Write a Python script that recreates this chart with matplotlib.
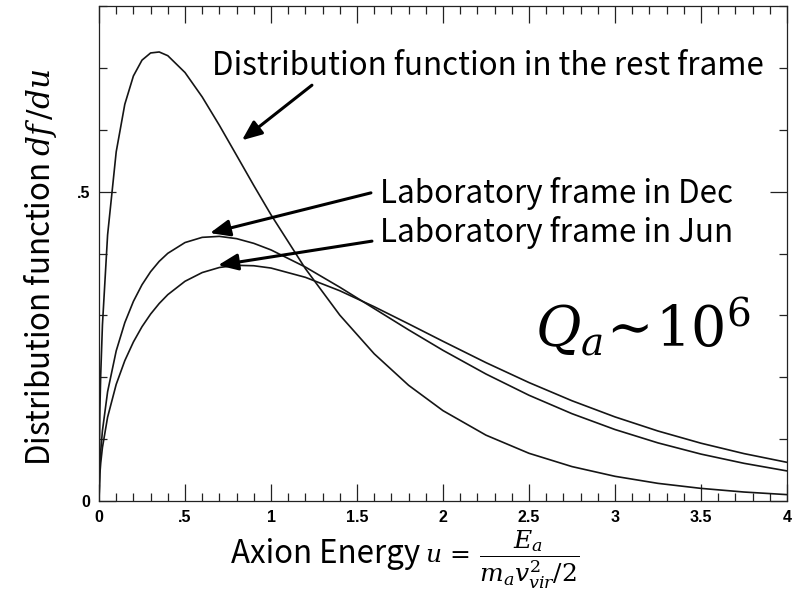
import matplotlib
matplotlib.use("Agg")
import matplotlib.pyplot as plt
from matplotlib.ticker import MultipleLocator, FuncFormatter

plt.rcParams['font.family'] = ['Noto Sans CJK KR', 'DejaVu Sans']
plt.rcParams['mathtext.fontset'] = 'dejavuserif'

# axion energy u = E_a / (m_a v_vir^2 / 2)
u = [0, 0.005, 0.01, 0.02, 0.05, 0.1, 0.15, 0.2, 0.25, 0.3, 0.35, 0.4, 0.5, 0.6,
     0.7, 0.8, 0.9, 1.0, 1.2, 1.4, 1.6, 1.8, 2.0, 2.25, 2.5, 2.75, 3.0, 3.25,
     3.5, 3.75, 4.0]

# df/du in the halo rest frame
rest_frame = [0, 0.1455, 0.2043, 0.2846, 0.4301, 0.5643, 0.6412, 0.6869, 0.7125,
              0.7241, 0.7257, 0.7197, 0.6925, 0.6530, 0.6071, 0.5586, 0.5099,
              0.4626, 0.3755, 0.3004, 0.2379, 0.1870, 0.1460, 0.1064, 0.0771,
              0.0556, 0.0399, 0.0285, 0.0204, 0.0145, 0.0103]

# df/du seen from the lab in December
lab_dec = [0, 0.0573, 0.0808, 0.1137, 0.1766, 0.2426, 0.2882, 0.3226, 0.3495,
           0.3706, 0.3873, 0.4003, 0.4177, 0.4261, 0.4277, 0.4240, 0.4164,
           0.4058, 0.3781, 0.3455, 0.3110, 0.2766, 0.2435, 0.2052, 0.1709,
           0.1411, 0.1155, 0.0939, 0.0758, 0.0609, 0.0486]

# df/du seen from the lab in June
lab_jun = [0, 0.0434, 0.0613, 0.0865, 0.1355, 0.1885, 0.2268, 0.2570, 0.2817,
           0.3021, 0.3192, 0.3335, 0.3551, 0.3692, 0.3774, 0.3809, 0.3802,
           0.3765, 0.3615, 0.3398, 0.3140, 0.2863, 0.2581, 0.2236, 0.1914,
           0.1620, 0.1359, 0.1131, 0.0934, 0.0766, 0.0625]

W, H = 795, 591
fig = plt.figure(figsize=(W / 100, H / 100), dpi=100)
ax = fig.add_axes([99 / W, 90 / H, 688 / W, 495 / H])

for series in (rest_frame, lab_dec, lab_jun):
    ax.plot(u, series, color='#151515', lw=1.2, solid_capstyle='round')

ax.set_xlim(0, 4)
ax.set_ylim(0, 0.8)

# ticks drawn inside on all four sides, no leading zero on the labels
ax.xaxis.set_major_locator(MultipleLocator(0.5))
ax.xaxis.set_minor_locator(MultipleLocator(0.1))
ax.yaxis.set_major_locator(MultipleLocator(0.5))
ax.yaxis.set_minor_locator(MultipleLocator(0.1))
fmt = FuncFormatter(lambda v, p: ('%g' % v).lstrip('0') or '0')
ax.xaxis.set_major_formatter(fmt)
ax.yaxis.set_major_formatter(fmt)
ax.tick_params(which='both', direction='in', top=True, right=True,
               width=0.9, color='#222222')
ax.tick_params(which='major', length=12)
ax.tick_params(which='minor', length=5.5)
ax.tick_params(axis='x', pad=6.5)
ax.tick_params(axis='y', pad=6)
for lab in ax.get_xticklabels() + ax.get_yticklabels():
    lab.set_family(['Liberation Sans Narrow', 'Liberation Sans'])
    lab.set_fontweight('bold')
    lab.set_fontsize(11.5)
for sp in ax.spines.values():
    sp.set_linewidth(0.9)
    sp.set_color('#222222')

# axis titles
fig.text(50 / W, 1 - 267 / H, r'Distribution function $df\,/du$', rotation=90,
         rotation_mode='anchor', ha='center', va='baseline', fontsize=22.5)
fig.text(420 / W, 1 - 563 / H, 'Axion Energy', ha='right', va='baseline',
         fontsize=22.5)
fig.text(425 / W, 1 - 563 / H, r'$u\,=\,\dfrac{E_a}{m_a v_{vir}^2/2}$',
         ha='left', va='baseline', fontsize=18)

# curve labels with arrows
arrow = dict(arrowstyle='-|>,head_length=0.6,head_width=0.25', color='black',
             lw=2.2, mutation_scale=20, shrinkA=0, shrinkB=0)
ax.text(0.657, 0.688, 'Distribution function in the rest frame',
        ha='left', va='baseline', fontsize=22.6)
ax.annotate('', xy=(0.831, 0.583), xytext=(1.238, 0.672), arrowprops=arrow)

ax.text(1.634, 0.482, 'Laboratory frame in Dec', ha='left', va='baseline',
        fontsize=22.6)
ax.annotate('', xy=(0.645, 0.433), xytext=(1.581, 0.498), arrowprops=arrow)

ax.text(1.634, 0.418, 'Laboratory frame in Jun', ha='left', va='baseline',
        fontsize=22.6)
ax.annotate('', xy=(0.692, 0.381), xytext=(1.587, 0.420), arrowprops=arrow)

ax.text(2.535, 0.250, r'$Q_a\!\sim\!10^6$', ha='left', va='baseline',
        fontsize=40)

fig.savefig('out.png', dpi=100)
